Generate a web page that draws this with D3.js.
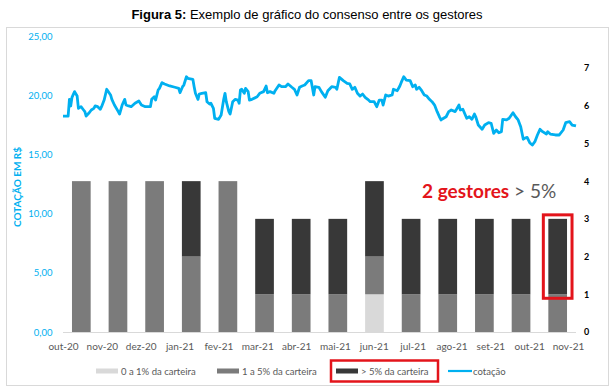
<!DOCTYPE html>
<html>
<head>
<meta charset="utf-8">
<script src="https://cdn.jsdelivr.net/npm/d3@7"></script>
<style>
	body { margin: 0; background: #fff; }
	svg { display: block; }
	.tick line { display: none; }
</style>
</head>
<body>
<svg id="grafico" width="615" height="390"></svg>
<script>
// meses (eixo x)
const meses = ['out-20', 'nov-20', 'dez-20', 'jan-21', 'fev-21', 'mar-21', 'abr-21',
	'mai-21', 'jun-21', 'jul-21', 'ago-21', 'set-21', 'out-21', 'nov-21'];

// numero de gestores por faixa de peso na carteira
const gestores0a1 = [0, 0, 0, 0, 0, 0, 0, 0, 1, 0, 0, 0, 0, 0];
const gestores1a5 = [4, 4, 4, 2, 4, 1, 1, 1, 1, 1, 1, 1, 1, 1];
const gestoresAcima5 = [0, 0, 0, 2, 0, 2, 2, 2, 2, 2, 2, 2, 2, 2];

// cotacao: dias contados a partir de 01/10/2020 e valor em R$
const cotacaoDias = [0, 4, 5, 6, 7, 9, 11, 12, 14, 16, 17, 18, 20, 22, 24, 25, 27, 29, 30, 32,
	34, 37, 38, 40, 43, 44, 46, 48, 49, 51, 53, 56, 59, 61, 64, 68, 69, 71, 72, 74,
	75, 77, 79, 83, 87, 90, 91, 93, 94, 96, 97, 101, 102, 103, 105, 106, 108, 111, 112, 114,
	115, 117, 118, 121, 123, 125, 126, 127, 129, 130, 132, 134, 136, 137, 138, 139, 141, 142, 144, 145,
	147, 151, 153, 156, 158, 159, 161, 164, 165, 168, 170, 173, 175, 178, 180, 182, 184, 186, 188, 191,
	193, 195, 196, 199, 201, 204, 206, 209, 212, 213, 215, 218, 221, 223, 225, 227, 229, 231, 233, 235,
	237, 239, 242, 244, 246, 248, 249, 251, 253, 256, 257, 260, 262, 263, 265, 267, 270, 272, 274, 275,
	277, 279, 281, 283, 285, 287, 289, 291, 293, 294, 296, 298, 300, 302, 305, 308, 309, 311, 314, 316,
	318, 320, 321, 323, 326, 328, 331, 333, 335, 337, 339, 341, 342, 345, 347, 350, 352, 354, 356, 358,
	359, 361, 363, 365, 367, 369, 371, 373, 376, 377, 379, 383, 386, 389, 391, 394, 396, 399];
const cotacaoValores = [18.24, 18.24, 19.65, 19.09, 19.82, 20.30, 19.93, 18.89, 19.03, 18.75, 18.61, 18.24, 18.47, 18.75, 18.89, 19.09, 19.03, 18.81, 19.03, 19.59,
	20.50, 20.02, 19.65, 19.17, 18.61, 18.41, 19.17, 19.65, 19.17, 19.09, 19.03, 19.32, 19.51, 19.17, 19.03, 19.03, 19.65, 19.87, 19.59, 20.44,
	20.58, 21.06, 20.95, 20.78, 20.67, 20.58, 20.21, 20.72, 20.86, 21.56, 21.43, 21.34, 20.72, 20.16, 19.65, 20.10, 20.16, 20.21, 19.45, 19.26,
	19.32, 18.89, 18.05, 17.96, 18.33, 19.65, 20.16, 19.45, 18.61, 18.41, 19.45, 19.65, 19.59, 19.32, 20.44, 20.50, 20.16, 20.58, 20.30, 19.59,
	19.65, 19.87, 20.16, 20.30, 20.78, 20.21, 20.30, 20.16, 20.38, 20.86, 20.72, 20.72, 20.95, 20.67, 20.50, 20.02, 20.67, 20.78, 20.86, 21.23,
	21.23, 20.02, 20.72, 20.67, 20.30, 19.82, 20.38, 20.72, 20.67, 20.50, 21.51, 21.23, 21.00, 20.95, 20.50, 20.67, 20.16, 19.93, 20.10, 19.82,
	19.65, 19.45, 19.45, 19.03, 19.59, 19.59, 19.17, 20.02, 19.93, 20.02, 20.50, 20.38, 20.78, 21.06, 21.56, 21.28, 21.23, 20.72, 20.86, 20.50,
	20.67, 20.38, 20.02, 19.93, 19.65, 19.45, 19.17, 18.61, 18.13, 17.91, 18.05, 18.18, 18.61, 18.75, 18.61, 19.17, 18.75, 18.81, 18.05, 18.18,
	17.96, 18.41, 18.18, 17.48, 17.12, 17.48, 17.68, 17.63, 16.78, 17.06, 16.83, 16.92, 17.96, 17.91, 18.05, 18.52, 18.18, 17.91, 17.34, 16.28,
	16.36, 16.44, 15.99, 15.79, 16.07, 16.64, 17.12, 16.92, 16.72, 16.92, 16.72, 16.64, 16.64, 17.06, 17.68, 17.76, 17.48, 17.40];

const ticksCotacao = [0, 5, 10, 15, 20, 25];
const ticksGestores = [0, 1, 2, 3, 4, 5, 6, 7];

const series = [
	{ nome: '0 a 1% da carteira', valores: gestores0a1, cor: '#d9d9d9' },
	{ nome: '1 a 5% da carteira', valores: gestores1a5, cor: '#7b7b7b' },
	{ nome: '> 5% da carteira', valores: gestoresAcima5, cor: '#383838' }
];

const azul = '#00b0f0',
	cinzaTexto = '#595959',
	vermelho = '#e3141b',
	fonte = 'Lato, "Open Sans", sans-serif';

const area = { left: 63, right: 576, top: 36, bottom: 332 };

const svg = d3.select('#grafico');

// moldura
svg.append('rect')
	.attr('x', 6.5).attr('y', 27.5)
	.attr('width', 602).attr('height', 358)
	.attr('fill', 'none')
	.attr('stroke', '#d9d9d9');

// titulo
const titulo = svg.append('text')
	.attr('x', 307).attr('y', 19)
	.attr('text-anchor', 'middle')
	.style('font-family', '"Liberation Sans", Arial, sans-serif')
	.style('font-size', '13px')
	.attr('fill', '#000');
titulo.append('tspan').style('font-weight', 'bold').text('Figura 5:');
titulo.append('tspan').text(' Exemplo de gráfico do consenso entre os gestores');

// escalas
const xBarra = d3.scaleBand()
	.domain(meses)
	.range([area.left, area.right])
	.paddingInner(0.49)
	.paddingOuter(0.245);

const xRotulo = d3.scalePoint()
	.domain(meses)
	.range([area.left, area.right - 8]);

const inicio = new Date(2020, 9, 1);
const xTempo = d3.scaleTime()
	.domain([inicio, d3.timeDay.offset(inicio, 399)])
	.range([area.left, area.right]);

const yCotacao = d3.scaleLinear().domain([0, 25]).range([area.bottom, area.top]);
const yGestores = d3.scaleLinear().domain([0, 7]).range([area.bottom, 68]);

// linha de base
svg.append('line')
	.attr('x1', area.left).attr('x2', area.right)
	.attr('y1', area.bottom + 0.5).attr('y2', area.bottom + 0.5)
	.attr('stroke', '#d9d9d9');

// barras empilhadas
const tabela = meses.map(function(m, i) {
	return { mes: m, s0: gestores0a1[i], s1: gestores1a5[i], s2: gestoresAcima5[i] };
});
const pilha = d3.stack().keys(['s0', 's1', 's2'])(tabela);

svg.append('g')
	.selectAll('g')
	.data(pilha)
	.join('g')
		.attr('fill', function(d, i) { return series[i].cor; })
	.selectAll('rect')
	.data(function(d) { return d; })
	.join('rect')
		.attr('x', function(d) { return xBarra(d.data.mes); })
		.attr('width', xBarra.bandwidth())
		.attr('y', function(d) { return yGestores(d[1]); })
		.attr('height', function(d) { return yGestores(d[0]) - yGestores(d[1]); });

// linha da cotacao
const pontos = cotacaoDias.map(function(d, i) {
	return { data: d3.timeDay.offset(inicio, d), valor: cotacaoValores[i] };
});

svg.append('path')
	.datum(pontos)
	.attr('fill', 'none')
	.attr('stroke', azul)
	.attr('stroke-width', 2.8)
	.attr('stroke-linejoin', 'round')
	.attr('d', d3.line()
		.x(function(d) { return xTempo(d.data); })
		.y(function(d) { return yCotacao(d.valor); }));

// eixos
const eixoEsq = svg.append('g')
	.attr('transform', 'translate(' + area.left + ',0)')
	.call(d3.axisLeft(yCotacao)
		.tickValues(ticksCotacao)
		.tickSize(0)
		.tickPadding(10.5)
		.tickFormat(function(d) { return d3.format('.2f')(d).replace('.', ','); }));
eixoEsq.select('.domain').remove();
eixoEsq.selectAll('text')
	.attr('fill', azul)
	.style('font-family', fonte)
	.style('font-size', '9.5px');

const eixoDir = svg.append('g')
	.attr('transform', 'translate(' + area.right + ',0)')
	.call(d3.axisRight(yGestores)
		.tickValues(ticksGestores)
		.tickSize(0)
		.tickPadding(8)
		.tickFormat(d3.format('d')));
eixoDir.select('.domain').remove();
eixoDir.selectAll('text')
	.attr('fill', '#000')
	.style('font-family', fonte)
	.style('font-weight', 'bold')
	.style('font-size', '9px');

const eixoX = svg.append('g')
	.attr('transform', 'translate(0,' + area.bottom + ')')
	.call(d3.axisBottom(xRotulo).tickSize(0).tickPadding(11));
eixoX.select('.domain').remove();
eixoX.selectAll('text')
	.attr('fill', cinzaTexto)
	.style('font-family', fonte)
	.style('font-size', '10px');

// titulo do eixo
svg.append('text')
	.attr('transform', 'translate(21,' + ((area.top + area.bottom) / 2 + 3) + ') rotate(-90)')
	.attr('text-anchor', 'middle')
	.attr('fill', azul)
	.style('font-family', fonte)
	.style('font-weight', 'bold')
	.style('font-size', '10px')
	.text('COTAÇÃO EM R$');

// destaque do ultimo mes
const ultimo = meses[meses.length - 1];
svg.append('rect')
	.attr('x', xBarra(ultimo) - 5)
	.attr('y', yGestores(3) - 4)
	.attr('width', xBarra.bandwidth() + 10)
	.attr('height', yGestores(1) - yGestores(3) + 8)
	.attr('fill', 'none')
	.attr('stroke', vermelho)
	.attr('stroke-width', 3);

const nota = svg.append('text')
	.attr('x', 422).attr('y', 198)
	.style('font-family', fonte)
	.style('font-size', '19px');
nota.append('tspan').attr('fill', vermelho).style('font-weight', 'bold').text('2 gestores');
nota.append('tspan').attr('fill', cinzaTexto).text(' > 5%');

// legenda
const legenda = [
	{ nome: series[0].nome, cor: series[0].cor, x: 96, tipo: 'barra' },
	{ nome: series[1].nome, cor: series[1].cor, x: 217, tipo: 'barra' },
	{ nome: series[2].nome, cor: series[2].cor, x: 336, tipo: 'barra' },
	{ nome: 'cotação', cor: azul, x: 448, tipo: 'linha' }
];

const itens = svg.append('g')
	.attr('transform', 'translate(0,371)')
	.selectAll('g')
	.data(legenda)
	.join('g')
		.attr('transform', function(d) { return 'translate(' + d.x + ',0)'; });

itens.filter(function(d) { return d.tipo === 'barra'; })
	.append('rect')
	.attr('y', -2.5).attr('width', 22).attr('height', 5)
	.attr('fill', function(d) { return d.cor; });

itens.filter(function(d) { return d.tipo === 'linha'; })
	.append('line')
	.attr('x2', 24)
	.attr('stroke', function(d) { return d.cor; })
	.attr('stroke-width', 2.2);

itens.append('text')
	.attr('x', 25)
	.attr('y', 3.5)
	.attr('fill', cinzaTexto)
	.style('font-family', fonte)
	.style('font-size', '9.5px')
	.text(function(d) { return d.nome; });

svg.append('rect')
	.attr('x', 331).attr('y', 360.5)
	.attr('width', 107).attr('height', 21)
	.attr('fill', 'none')
	.attr('stroke', vermelho)
	.attr('stroke-width', 2.5);
</script>
</body>
</html>
